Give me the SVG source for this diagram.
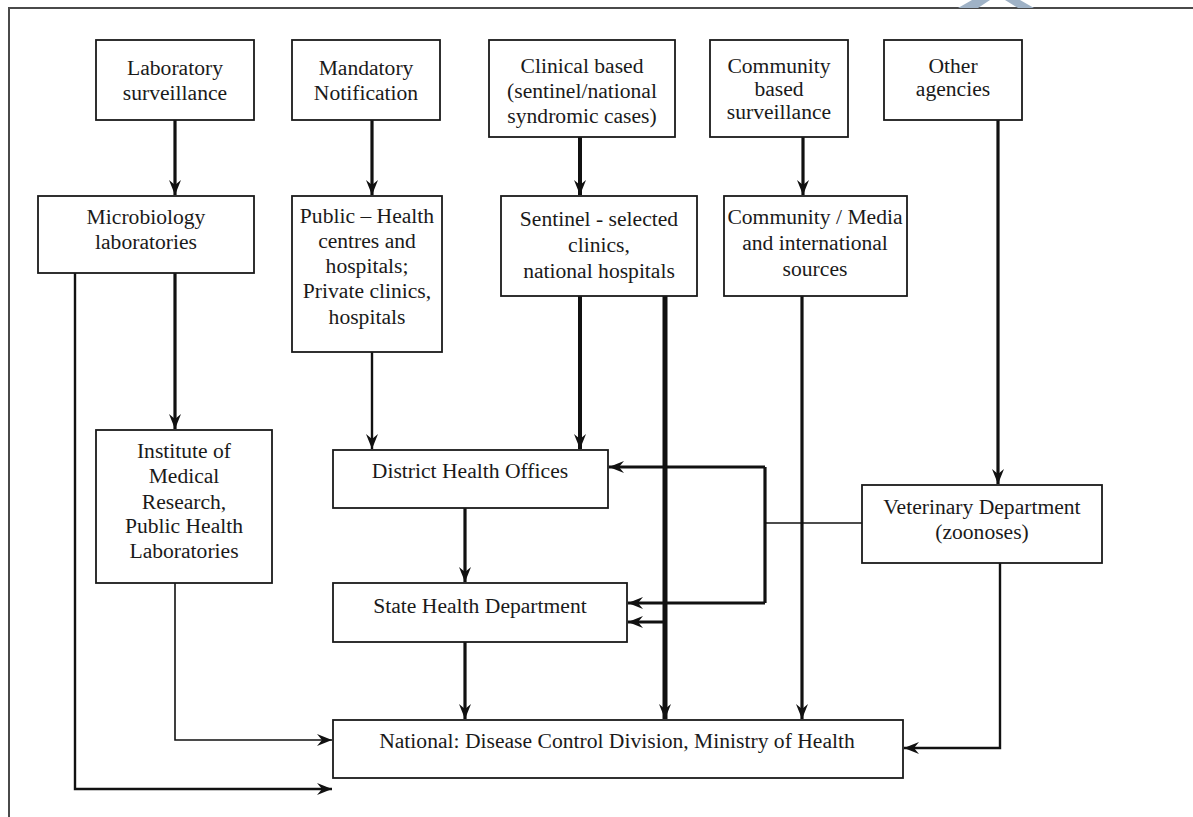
<svg xmlns="http://www.w3.org/2000/svg" width="1193" height="817" viewBox="0 0 1193 817">
  <defs>
    <style>
      .box { fill: #ffffff; stroke: #1a1a1a; stroke-width: 1.8; }
      .lbl { font-family: "Liberation Serif", "Times New Roman", serif; font-size: 21.6px; fill: #1a1a1a; text-anchor: middle; }
      .wire { fill: none; stroke: #111111; stroke-linejoin: miter; }
      .w1 { stroke-width: 1.6; }
      .w2 { stroke-width: 2.4; }
      .w3 { stroke-width: 3.2; }
      .w4 { stroke-width: 4; }
      .w5 { stroke-width: 5; }
    </style>
    <marker id="arrow" markerUnits="userSpaceOnUse" markerWidth="18" markerHeight="14" viewBox="-16 -7 18 14" refX="0" refY="0" orient="auto">
      <path d="M0,0 L-15,-6 L-10,0 L-15,6 Z" fill="#111111"/>
    </marker>
  </defs>

  <rect width="1193" height="817" fill="#ffffff"/>

  <!-- page frame -->
  <path d="M9,817 V8 H1193" fill="none" stroke="#4a4a4a" stroke-width="2"/>
  <!-- faint mark above the frame -->
  <path d="M958,8 L978,8 L990,0 L972,0 Z M1005,0 L1020,0 L1034,8 L1018,8 Z" fill="#9fb2c6"/>

  <!-- connectors -->
  <g id="connectors">
    <path class="wire w3" d="M175,120 V195" marker-end="url(#arrow)"/>
    <path class="wire w3" d="M372,120 V195" marker-end="url(#arrow)"/>
    <path class="wire w4" d="M580,137 V195" marker-end="url(#arrow)"/>
    <path class="wire w3" d="M803,137 V195" marker-end="url(#arrow)"/>
    <path class="wire w3" d="M998,120 V484" marker-end="url(#arrow)"/>

    <path class="wire w3" d="M175,273 V429" marker-end="url(#arrow)"/>
    <path class="wire w2" d="M75,273 V789 H332" marker-end="url(#arrow)"/>
    <path class="wire w1" d="M175,583 V740 H332" marker-end="url(#arrow)"/>

    <path class="wire w2" d="M372,352 V449" marker-end="url(#arrow)"/>
    <path class="wire w4" d="M580,296 V449" marker-end="url(#arrow)"/>
    <path class="wire w5" d="M665,296 V719" marker-end="url(#arrow)"/>
    <path class="wire w3" d="M802,296 V719" marker-end="url(#arrow)"/>

    <path class="wire w3" d="M465,508 V582" marker-end="url(#arrow)"/>
    <path class="wire w3" d="M465,642 V719" marker-end="url(#arrow)"/>

    <path class="wire w1" d="M862,523 H765"/>
    <path class="wire w3" d="M765,467 V603"/>
    <path class="wire w3" d="M765,467 H609" marker-end="url(#arrow)"/>
    <path class="wire w3" d="M765,603 H628" marker-end="url(#arrow)"/>
    <path class="wire w3" d="M665,622 H628" marker-end="url(#arrow)"/>

    <path class="wire w2" d="M1000,563 V748 H904" marker-end="url(#arrow)"/>
  </g>

  <!-- sources -->
  <g id="lab-surveillance">
    <rect class="box" x="96" y="40" width="158" height="80"/>
    <text class="lbl" x="175" y="75">Laboratory</text>
    <text class="lbl" x="175" y="100">surveillance</text>
  </g>
  <g id="mandatory-notification">
    <rect class="box" x="292" y="40" width="148" height="80"/>
    <text class="lbl" x="366" y="75">Mandatory</text>
    <text class="lbl" x="366" y="100">Notification</text>
  </g>
  <g id="clinical-based">
    <rect class="box" x="489" y="40" width="186" height="97"/>
    <text class="lbl" x="582" y="73">Clinical based</text>
    <text class="lbl" x="582" y="98">(sentinel/national</text>
    <text class="lbl" x="582" y="123">syndromic cases)</text>
  </g>
  <g id="community-based">
    <rect class="box" x="710" y="40" width="138" height="97"/>
    <text class="lbl" x="779" y="73">Community</text>
    <text class="lbl" x="779" y="96">based</text>
    <text class="lbl" x="779" y="119">surveillance</text>
  </g>
  <g id="other-agencies">
    <rect class="box" x="884" y="40" width="138" height="80"/>
    <text class="lbl" x="953" y="73">Other</text>
    <text class="lbl" x="953" y="96">agencies</text>
  </g>

  <!-- reporting units -->
  <g id="microbiology-labs">
    <rect class="box" x="38" y="196" width="216" height="77"/>
    <text class="lbl" x="146" y="224">Microbiology</text>
    <text class="lbl" x="146" y="249">laboratories</text>
  </g>
  <g id="public-private">
    <rect class="box" x="292" y="196" width="150" height="156"/>
    <text class="lbl" x="367" y="223">Public – Health</text>
    <text class="lbl" x="367" y="248">centres and</text>
    <text class="lbl" x="367" y="273">hospitals;</text>
    <text class="lbl" x="367" y="298">Private clinics,</text>
    <text class="lbl" x="367" y="324">hospitals</text>
  </g>
  <g id="sentinel">
    <rect class="box" x="501" y="196" width="196" height="100"/>
    <text class="lbl" x="599" y="226">Sentinel - selected</text>
    <text class="lbl" x="599" y="252">clinics,</text>
    <text class="lbl" x="599" y="278">national hospitals</text>
  </g>
  <g id="community-media">
    <rect class="box" x="724" y="196" width="183" height="100"/>
    <text class="lbl" x="815" y="224">Community / Media</text>
    <text class="lbl" x="815" y="250">and international</text>
    <text class="lbl" x="815" y="276">sources</text>
  </g>

  <!-- intermediate levels -->
  <g id="institute">
    <rect class="box" x="96" y="430" width="176" height="153"/>
    <text class="lbl" x="184" y="458">Institute of</text>
    <text class="lbl" x="184" y="483">Medical</text>
    <text class="lbl" x="184" y="509">Research,</text>
    <text class="lbl" x="184" y="533">Public Health</text>
    <text class="lbl" x="184" y="558">Laboratories</text>
  </g>
  <g id="district">
    <rect class="box" x="333" y="450" width="275" height="58"/>
    <text class="lbl" x="470" y="478">District Health Offices</text>
  </g>
  <g id="veterinary">
    <rect class="box" x="862" y="485" width="240" height="78"/>
    <text class="lbl" x="982" y="514">Veterinary Department</text>
    <text class="lbl" x="982" y="539">(zoonoses)</text>
  </g>
  <g id="state">
    <rect class="box" x="333" y="583" width="294" height="59"/>
    <text class="lbl" x="480" y="613">State Health Department</text>
  </g>
  <g id="national">
    <rect class="box" x="333" y="720" width="570" height="58"/>
    <text class="lbl" x="617" y="748">National: Disease Control Division, Ministry of Health</text>
  </g>
</svg>
